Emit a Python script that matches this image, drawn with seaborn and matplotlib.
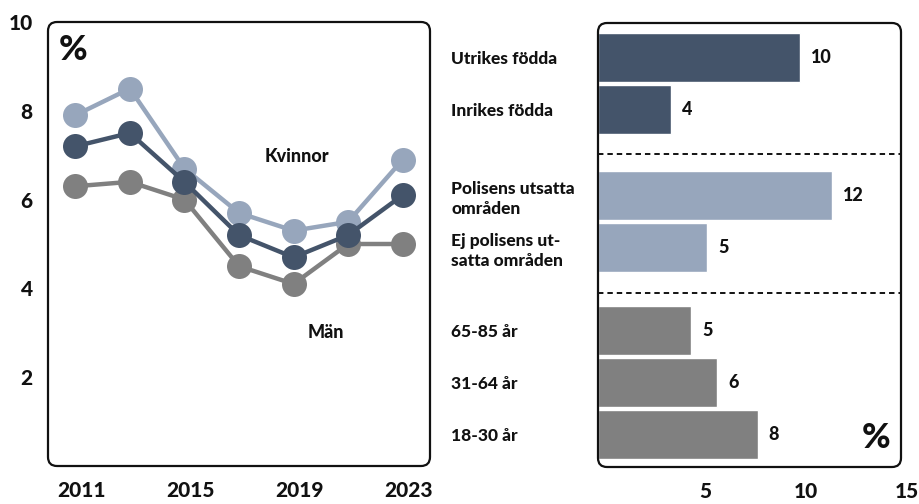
import matplotlib
matplotlib.use("Agg")
import matplotlib.pyplot as plt
from matplotlib.patches import FancyBboxPatch
from matplotlib.transforms import IdentityTransform, ScaledTranslation
import seaborn as sns
import pandas as pd

# ---------------- data ----------------
years = [2011, 2013, 2015, 2017, 2019, 2021, 2023]
kvinnor = [7.9, 8.5, 6.7, 5.7, 5.3, 5.5, 6.9]
alla = [7.2, 7.5, 6.4, 5.2, 4.7, 5.2, 6.1]
man = [6.3, 6.4, 6.0, 4.5, 4.1, 5.0, 5.0]
year_ticks = [2011, 2015, 2019, 2023]
y_ticks_left = [2, 4, 6, 8, 10]

bar_categories = ["Utrikes födda", "Inrikes födda",
                  "Polisens utsatta\nområden", "Ej polisens ut-\nsatta områden",
                  "65-85 år", "31-64 år", "18-30 år"]
bar_values = [10.0, 3.6, 11.6, 5.4, 4.6, 5.9, 7.9]
bar_groups = ["born", "born", "area", "area", "age", "age", "age"]
x_ticks_right = [5, 10, 15]

# ---------------- layout / style ----------------
W, H, DPI = 920, 504, 100
C_DARK = "#44546A"
C_LIGHT = "#97A6BC"
C_GRAY = "#808080"
bar_pos = [0, 1, 2.65, 3.65, 5.25, 6.25, 7.25]
sep_pos = [1.86, 4.53]
WEIGHT = "black"

sns.set_theme(style="white")
plt.rcParams["font.family"] = ["Lato", "DejaVu Sans"]
plt.rcParams["font.weight"] = WEIGHT
plt.rcParams["text.color"] = "#111111"
plt.rcParams["xtick.color"] = "#111111"
plt.rcParams["ytick.color"] = "#111111"

fig = plt.figure(figsize=(W / DPI, H / DPI), dpi=DPI)
ax1 = fig.add_axes([48 / W, (H - 466) / H, 382 / W, 444 / H])
ax2 = fig.add_axes([598 / W, (H - 467) / H, 303 / W, 444 / H])

# ---------------- left: lines ----------------
for vals, col in [(man, C_GRAY), (kvinnor, C_LIGHT), (alla, C_DARK)]:
    sns.lineplot(x=years, y=vals, ax=ax1, color=col, linewidth=3.2,
                 marker="o", markersize=18, markeredgewidth=0)
ax1.set_xlim(2010, 2024)
ax1.set_ylim(0, 10)
ax1.set_xticks(year_ticks, labels=[str(y) for y in year_ticks])
ax1.set_yticks(y_ticks_left, labels=[str(v) for v in y_ticks_left])
ax1.tick_params(axis="both", length=0, labelsize=15)
ax1.tick_params(axis="x", pad=11)
ax1.tick_params(axis="y", pad=11)
for s in ax1.spines.values():
    s.set_visible(False)
ax1.set_xlabel("")
ax1.set_ylabel("")
ax1.text(2019.12, 6.98, "Kvinnor", ha="center", va="center", fontsize=13, fontweight=WEIGHT)
ax1.text(2020.19, 3.0, "Män", ha="center", va="center", fontsize=13, fontweight=WEIGHT)
ax1.text(0.065, 0.937, "%", transform=ax1.transAxes, ha="center", va="center",
         fontsize=25, fontweight=WEIGHT)

# ---------------- right: bars ----------------
df = pd.DataFrame({"value": bar_values, "pos": bar_pos, "group": bar_groups})
sns.barplot(data=df, x="value", y="pos", hue="group", orient="y", native_scale=True,
            dodge=False, width=0.94, saturation=1, legend=False, ax=ax2,
            palette={"born": C_DARK, "area": C_LIGHT, "age": C_GRAY})
ax2.set_xlim(0, 15)
ax2.set_ylim(7.875, -0.663)
for yv in sep_pos:
    ax2.axhline(yv, color="black", linewidth=1.3, linestyle=(0, (3, 2.2)))
for v, p in zip(bar_values, bar_pos):
    ax2.annotate(str(int(round(v))), (v, p), xytext=(8, 0), textcoords="offset points",
                 ha="left", va="center", fontsize=13, fontweight=WEIGHT)
ax2.set_xticks(x_ticks_right, labels=[str(v) for v in x_ticks_right])
ax2.set_yticks(bar_pos, labels=bar_categories)
ax2.tick_params(axis="both", length=0)
ax2.tick_params(axis="x", labelsize=15, pad=11)
ax2.tick_params(axis="y", labelsize=12.5, pad=147 * 72 / DPI)
for lbl in ax2.get_yticklabels():
    lbl.set_horizontalalignment("left")
    lbl.set_linespacing(1.35)
for s in ax2.spines.values():
    s.set_visible(False)
ax2.set_xlabel("")
ax2.set_ylabel("")
ax2.text(0.917, 0.065, "%", transform=ax2.transAxes, ha="center", va="center",
         fontsize=25, fontweight=WEIGHT)

# shift x tick labels slightly right, as in the reference
shift = ScaledTranslation(6 / DPI, 0, fig.dpi_scale_trans)
for ax in (ax1, ax2):
    for lbl in ax.get_xticklabels():
        lbl.set_transform(lbl.get_transform() + shift)

# rounded frames
for ax in (ax1, ax2):
    bb = ax.get_position()
    x0, y0 = bb.x0 * W, bb.y0 * H
    fig.add_artist(FancyBboxPatch((x0, y0), bb.width * W, bb.height * H,
                                  boxstyle="round,pad=0,rounding_size=9",
                                  transform=IdentityTransform(), facecolor="none",
                                  edgecolor="#111111", linewidth=1.6, zorder=10))

fig.savefig("out.png", dpi=DPI, facecolor="white")
